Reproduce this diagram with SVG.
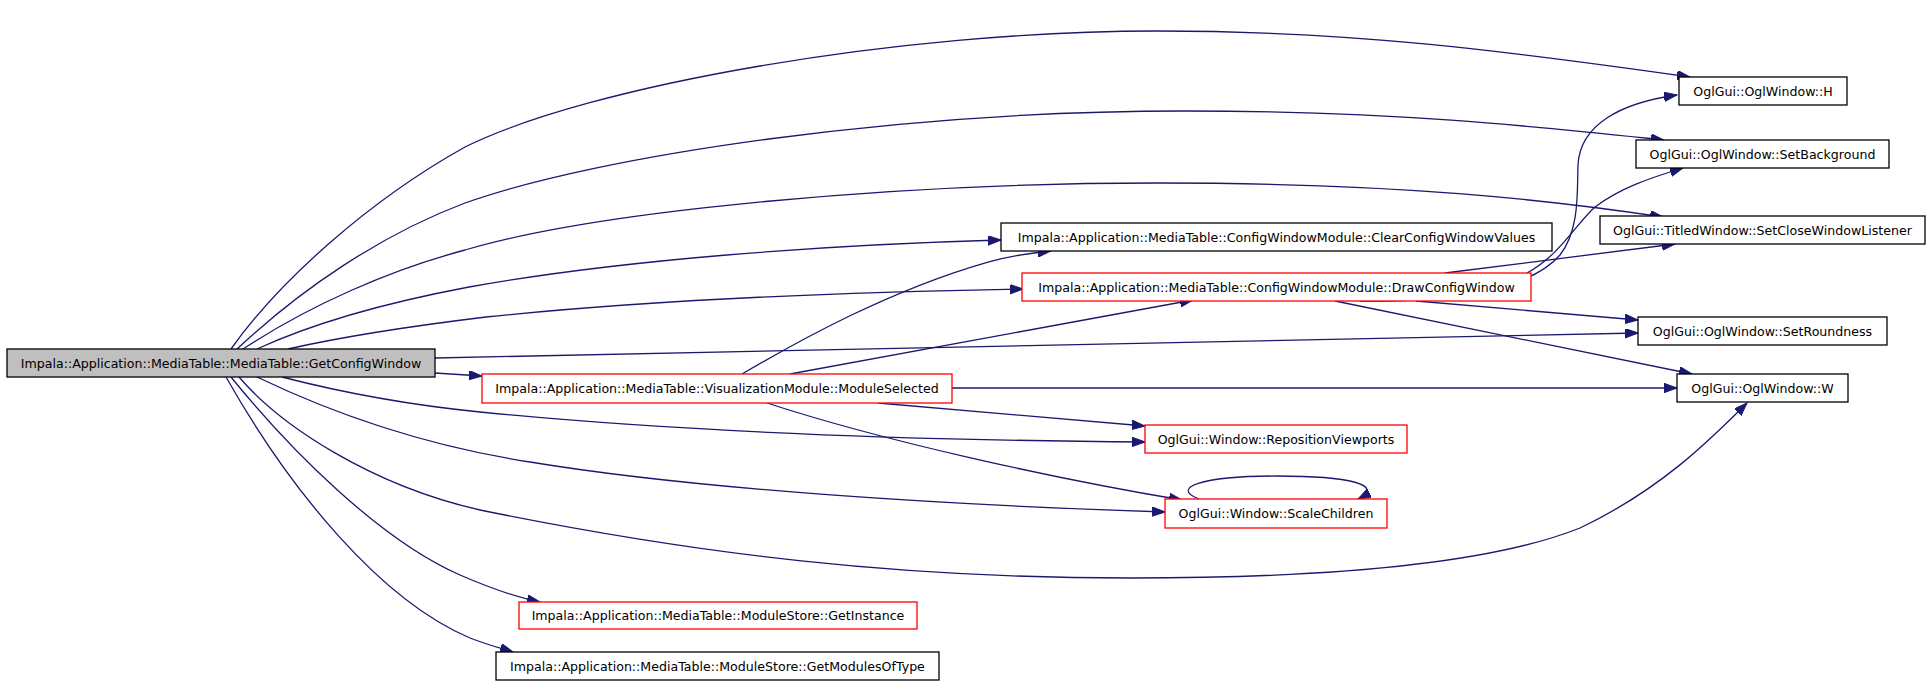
<svg xmlns="http://www.w3.org/2000/svg" width="1931" height="684" viewBox="0 0 1931 684">
<style>
.n rect{fill:#ffffff;stroke:#000000;stroke-width:1.3}
.n.red rect{stroke:#ff0000}
.n.root rect{fill:#bfbfbf}
.n text{font-family:"DejaVu Sans","Liberation Sans",sans-serif;font-size:12.6px;fill:#000000;text-anchor:middle}
#edges path{fill:none;stroke:#191970;stroke-width:1.3;marker-end:url(#ah)}
</style>
<defs>
<marker id="ah" markerUnits="userSpaceOnUse" markerWidth="14" markerHeight="10" refX="13" refY="4.7" orient="auto">
<path d="M0,0 L13,4.7 L0,9.4 z" fill="#191970" stroke="#191970" stroke-width="1"/>
</marker>
</defs>
<rect width="1931" height="684" fill="#ffffff"/>
<g id="edges">
<path d="M231,349 C280,280 370,200 465,147 C590,85 900,31 1157,31 C1350,31 1500,50 1690,77"/>
<path d="M237,349 C300,290 380,235 465,203 C600,155 900,111 1185,111 C1400,111 1550,128 1664,140"/>
<path d="M243,349 C310,305 390,270 465,250 C600,210 900,183 1157,183 C1400,183 1550,200 1663,217"/>
<path d="M257,349 C320,320 400,300 469,287 C620,260 820,245 1001,240"/>
<path d="M288,349 C350,335 420,325 486,317 C650,300 850,292 1023,289"/>
<path d="M435,358 L1638,333"/>
<path d="M435,373 C450,374 465,375 482,376"/>
<path d="M282,377 C340,392 410,405 480,412 C680,432 900,440 1145,442"/>
<path d="M257,377 C330,412 420,445 530,462 C700,490 950,505 1165,512"/>
<path d="M239,377 C280,425 370,485 480,510 C700,555 900,578 1130,578 C1350,578 1500,560 1580,528 C1660,490 1710,440 1747,403"/>
<path d="M231,377 C290,450 380,540 460,575 C490,588 515,597 540,602"/>
<path d="M226,377 C290,490 380,600 470,638 C488,645 500,648 513,652"/>
<path d="M742,374 C800,340 890,290 988,262 C1010,256 1030,253 1051,251"/>
<path d="M790,374 L1193,300"/>
<path d="M952,388 L1677,388"/>
<path d="M878,403 L1145,426"/>
<path d="M767,403 C880,440 1050,478 1182,500"/>
<path d="M1360,301 C1450,302 1530,290 1560,255 C1580,230 1577,190 1578,165 C1580,125 1620,103 1677,95"/>
<path d="M1527,273 C1560,255 1575,225 1595,207 C1620,188 1650,178 1683,168"/>
<path d="M1445,273 L1675,244"/>
<path d="M1416,301 L1638,320"/>
<path d="M1335,301 L1692,374"/>
<path d="M1199,499 C1170,488 1200,476 1277,476 C1350,476 1385,485 1358,499"/>
</g>
<g id="n_getconfigwindow" class="n root"><rect x="7" y="349" width="428" height="28"/><text x="221" y="367.5">Impala::Application::MediaTable::MediaTable::GetConfigWindow</text></g>
<g id="n_h" class="n"><rect x="1679" y="77" width="168" height="28"/><text x="1763" y="95.5">OglGui::OglWindow::H</text></g>
<g id="n_setbackground" class="n"><rect x="1636" y="140" width="253" height="28"/><text x="1762.5" y="158.5">OglGui::OglWindow::SetBackground</text></g>
<g id="n_setclosewindowlistener" class="n"><rect x="1600" y="216" width="325" height="28"/><text x="1762.5" y="234.5">OglGui::TitledWindow::SetCloseWindowListener</text></g>
<g id="n_clearconfigwindowvalues" class="n"><rect x="1001" y="223" width="551" height="28"/><text x="1276.5" y="241.5">Impala::Application::MediaTable::ConfigWindowModule::ClearConfigWindowValues</text></g>
<g id="n_drawconfigwindow" class="n red"><rect x="1022" y="273" width="509" height="28"/><text x="1276.5" y="291.5">Impala::Application::MediaTable::ConfigWindowModule::DrawConfigWindow</text></g>
<g id="n_setroundness" class="n"><rect x="1638" y="317" width="249" height="28"/><text x="1762.5" y="335.5">OglGui::OglWindow::SetRoundness</text></g>
<g id="n_moduleselected" class="n red"><rect x="482" y="374" width="470" height="29"/><text x="717" y="393">Impala::Application::MediaTable::VisualizationModule::ModuleSelected</text></g>
<g id="n_w" class="n"><rect x="1677" y="374" width="171" height="28"/><text x="1762.5" y="392.5">OglGui::OglWindow::W</text></g>
<g id="n_repositionviewports" class="n red"><rect x="1145" y="425" width="262" height="28"/><text x="1276" y="443.5">OglGui::Window::RepositionViewports</text></g>
<g id="n_scalechildren" class="n red"><rect x="1165" y="499" width="222" height="29"/><text x="1276" y="518">OglGui::Window::ScaleChildren</text></g>
<g id="n_getinstance" class="n red"><rect x="519" y="602" width="398" height="27"/><text x="718" y="620">Impala::Application::MediaTable::ModuleStore::GetInstance</text></g>
<g id="n_getmodulesoftype" class="n"><rect x="496" y="652" width="443" height="28"/><text x="717.5" y="670.5">Impala::Application::MediaTable::ModuleStore::GetModulesOfType</text></g>
</svg>
